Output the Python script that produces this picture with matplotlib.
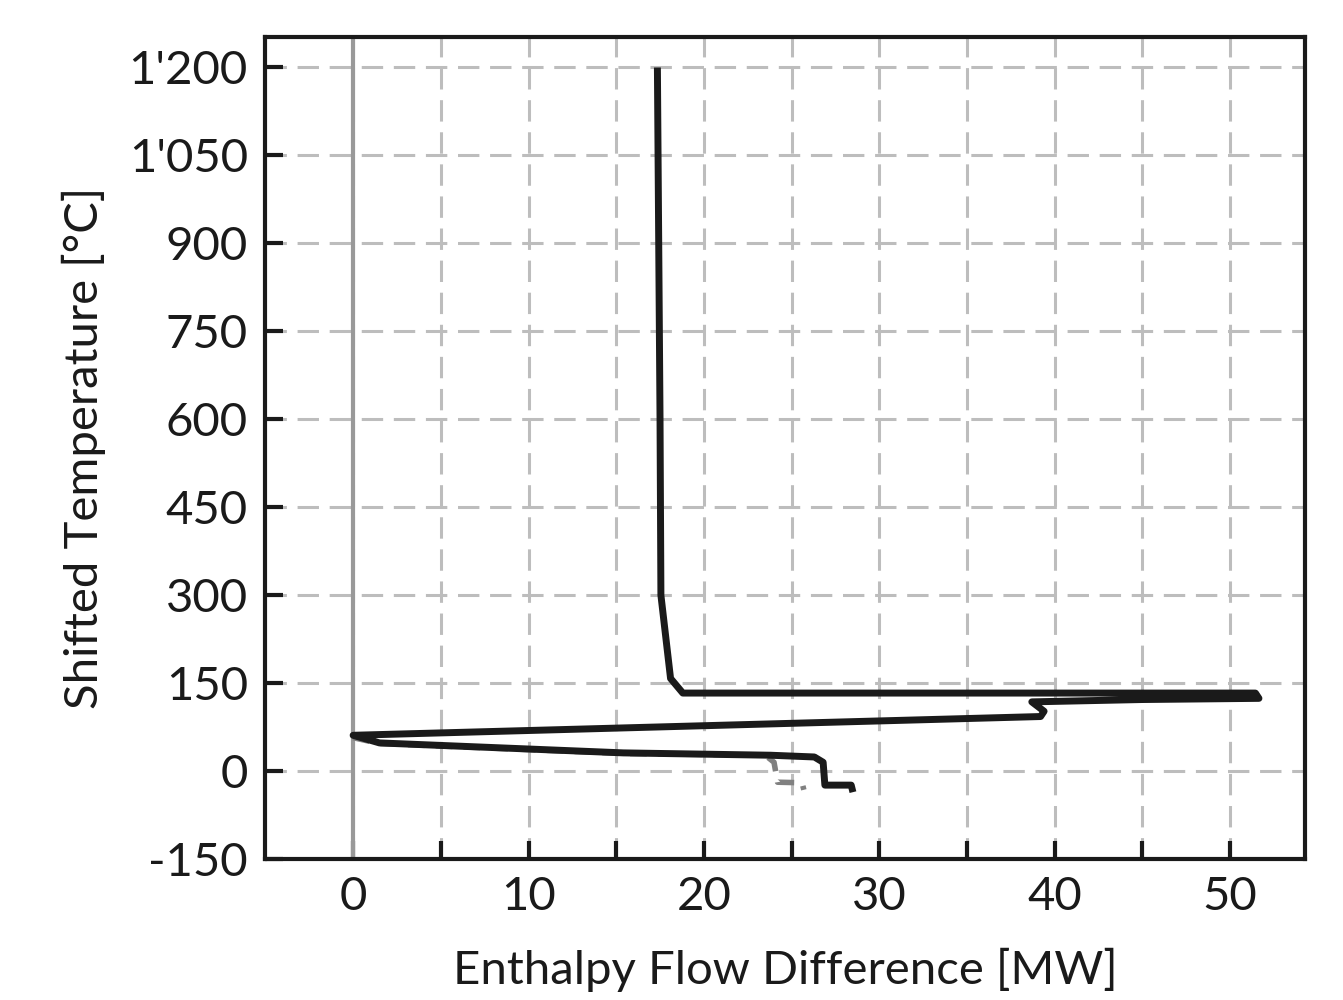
import matplotlib
matplotlib.use("Agg")
import matplotlib.pyplot as plt

plt.rcParams['font.family'] = ['Lato', 'DejaVu Sans']

# main composite curve (enthalpy flow difference vs shifted temperature)
gcc_h = [17.35, 17.5, 17.55, 18.1, 18.8, 51.45, 51.65, 45.0, 38.7, 39.4, 39.2, 0.0,
         1.5, 15.4, 23.8, 26.3, 26.8, 26.9, 28.4, 28.5]
gcc_t = [1200, 600, 300, 158, 133, 133, 124, 122, 118, 102, 93, 61,
         48, 31, 27, 24, 15, -24, -24, -36]

# alternative case (grey dashed), diverging at the cold end
alt_h = [0.0, 1.5, 15.4, 23.5, 24.0, 24.2, 25.6, 25.7]
alt_t = [57, 47, 30, 27, 15, -19, -20, -32]

xticks = [0, 5, 10, 15, 20, 25, 30, 35, 40, 45, 50]
xlabels = ["0", "", "10", "", "20", "", "30", "", "40", "", "50"]
yticks = [-150, 0, 150, 300, 450, 600, 750, 900, 1050, 1200]
ylabels = ["-150", "0", "150", "300", "450", "600", "750", "900", "1'050", "1'200"]

fig = plt.figure(figsize=(13.43, 10), dpi=100)
ax = fig.add_axes([0.197, 0.141, 0.775, 0.822])

ax.axvline(0, color="#999999", lw=3, zorder=1)
ax.plot(alt_h, alt_t, color="#808080", lw=4, ls=(0, (3, 2)), zorder=2)
ax.plot(gcc_h, gcc_t, color="#1a1a1a", lw=5, solid_joinstyle="round",
        solid_capstyle="butt", zorder=3)

ax.set_xlim(-5.05, 54.3)
ax.set_ylim(-150, 1252)
ax.set_xticks(xticks)
ax.set_xticklabels(xlabels)
ax.set_yticks(yticks)
ax.set_yticklabels(ylabels)

ax.grid(True, color="#bdbdbd", lw=2.2, ls=(0, (7, 3.5)), zorder=0)
ax.set_axisbelow(True)
ax.tick_params(direction="in", length=13, width=3, labelsize=34, colors="#1a1a1a", pad=12)
for s in ax.spines.values():
    s.set_linewidth(3)
    s.set_color("#1a1a1a")

ax.set_xlabel("Enthalpy Flow Difference [MW]", fontsize=34, color="#1a1a1a", labelpad=22)
ax.set_ylabel("Shifted Temperature [°C]", fontsize=34, color="#1a1a1a", labelpad=16)

fig.savefig("out.png", dpi=100)
